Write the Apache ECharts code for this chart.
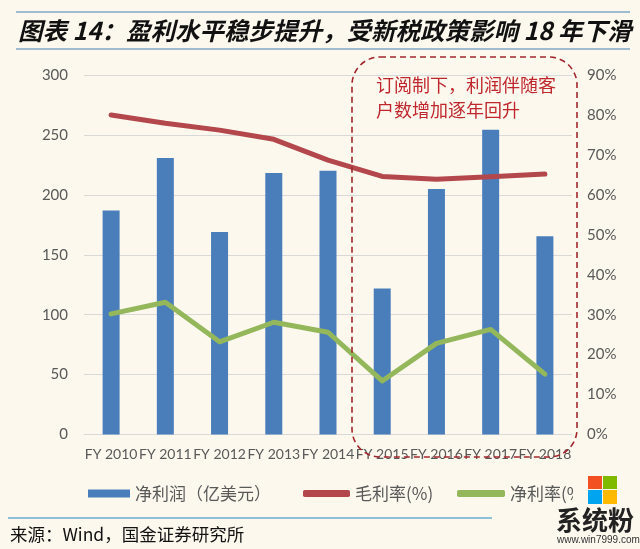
<!DOCTYPE html>
<html>
<head>
<meta charset="utf-8">
<script src="https://cdn.jsdelivr.net/npm/echarts@6/dist/echarts.min.js"></script>
<style>
html,body{margin:0;padding:0;background:#fcf8ee;}
#c{width:640px;height:549px;}
</style>
</head>
<body>
<div id="c"></div>
<script>
var categories = ['FY 2010','FY 2011','FY 2012','FY 2013','FY 2014','FY 2015','FY 2016','FY 2017','FY 2018'];
var netProfit = [187, 230.7, 169, 218.2, 220.2, 121.8, 204.8, 254.3, 165.4];
var grossMargin = [80.0, 77.9, 76.2, 73.9, 68.7, 64.6, 63.9, 64.5, 65.2];
var netMargin = [30.2, 33.1, 23.2, 28.1, 25.6, 13.4, 22.8, 26.3, 15.1];
var leftTicks = {min: 0, max: 300, interval: 50};
var rightTicks = {min: 0, max: 90, interval: 10};
var names = ['净利润（亿美元）', '毛利率(%)', '净利率(%)'];

var chart = echarts.init(document.getElementById('c'));
var axisFont = {fontFamily: 'Lato', fontSize: 15, color: '#595959'};
var legendText = {fontFamily: 'Noto Sans CJK SC', fontSize: 17, color: '#595959'};
var bg = '#fcf8ee';

chart.setOption({
  backgroundColor: bg,
  animation: false,
  grid: {left: 84, width: 488, top: 75, height: 359.5, containLabel: false},
  legend: [
    {data: [names[0]], left: 83, top: 480, itemWidth: 42, itemHeight: 8, icon: 'rect', textStyle: legendText, itemGap: 0},
    {data: [names[1]], left: 298, top: 480, itemWidth: 47, itemHeight: 7, icon: 'roundRect', textStyle: legendText},
    {data: [names[2]], left: 452, top: 480, itemWidth: 48, itemHeight: 7, icon: 'roundRect', textStyle: legendText}
  ],
  xAxis: {
    type: 'category', data: categories,
    axisLine: {lineStyle: {color: '#d9d9d9'}},
    axisTick: {show: false},
    axisLabel: Object.assign({interval: 0, margin: 13}, axisFont, {fontSize: 14})
  },
  yAxis: [
    {type: 'value', min: leftTicks.min, max: leftTicks.max, interval: leftTicks.interval,
     axisLine: {show: false}, axisTick: {show: false},
     axisLabel: Object.assign({margin: 16}, axisFont),
     splitLine: {lineStyle: {color: '#d9d9d9', width: 1}}},
    {type: 'value', min: rightTicks.min, max: rightTicks.max, interval: rightTicks.interval,
     axisLine: {show: false}, axisTick: {show: false},
     axisLabel: Object.assign({margin: 15, formatter: '{value}%'}, axisFont),
     splitLine: {show: false}}
  ],
  series: [
    {name: names[0], type: 'bar', data: netProfit, barWidth: 17, itemStyle: {color: '#4a7ebb'}, z: 2},
    {name: names[1], type: 'line', yAxisIndex: 1, data: grossMargin, symbol: 'none',
     lineStyle: {color: '#b3474c', width: 5, cap: 'round', join: 'round'}, itemStyle: {color: '#b3474c'}, z: 3},
    {name: names[2], type: 'line', yAxisIndex: 1, data: netMargin, symbol: 'none',
     lineStyle: {color: '#93b75a', width: 5, cap: 'round', join: 'round'}, itemStyle: {color: '#93b75a'}, z: 3}
  ],
  graphic: [
    {type: 'line', shape: {x1: 16, y1: 12, x2: 630, y2: 12}, style: {stroke: '#9fbbd0', lineWidth: 2}},
    {type: 'line', shape: {x1: 16, y1: 49, x2: 630, y2: 49}, style: {stroke: '#9fbbd0', lineWidth: 2}},
    {type: 'text', left: 18, top: 18, style: {text: '图表 14：盈利水平稳步提升，受新税政策影响 18 年下滑',
      fontFamily: 'Noto Sans CJK SC', fontSize: 24.5, fontWeight: 'bold', fontStyle: 'italic', fill: '#111'}},
    {type: 'rect', shape: {x: 352, y: 57, width: 225, height: 400, r: 28},
      style: {fill: 'none', stroke: '#a3262c', lineWidth: 1.6, lineDash: [6, 4]}, z: 10},
    {type: 'text', left: 376, top: 73, style: {text: '订阅制下，利润伴随客\n户数增加逐年回升',
      fontFamily: 'Noto Sans CJK SC', fontSize: 18, lineHeight: 25, fill: '#c0272d'}, z: 10},
    {type: 'line', shape: {x1: 8, y1: 518, x2: 492, y2: 518}, style: {stroke: '#6aaed0', lineWidth: 1.5}},
    {type: 'text', left: 10, top: 526, style: {text: '来源：Wind，国金证券研究所',
      fontFamily: 'Noto Sans CJK SC', fontSize: 17.5, fill: '#111'}},
    {type: 'rect', shape: {x: 573, y: 470, width: 67, height: 40}, style: {fill: bg}, z: 100},
    {type: 'rect', shape: {x: 588, y: 476, width: 14, height: 13}, style: {fill: '#f25022'}, z: 101},
    {type: 'rect', shape: {x: 603, y: 476, width: 14, height: 13}, style: {fill: '#7fba00'}, z: 101},
    {type: 'rect', shape: {x: 588, y: 490, width: 14, height: 14}, style: {fill: '#00a4ef'}, z: 101},
    {type: 'rect', shape: {x: 603, y: 490, width: 14, height: 14}, style: {fill: '#ffb900'}, z: 101},
    {type: 'text', left: 556, top: 507, style: {text: '系统粉', fontFamily: 'Noto Sans CJK SC', fontSize: 26,
      fontWeight: 'bold', fill: '#222'}, z: 101},
    {type: 'text', left: 557, top: 535, style: {text: 'www.win7999.com', fontFamily: 'Liberation Sans', fontSize: 10,
      fill: '#333'}, z: 101}
  ]
});
</script>
</body>
</html>
